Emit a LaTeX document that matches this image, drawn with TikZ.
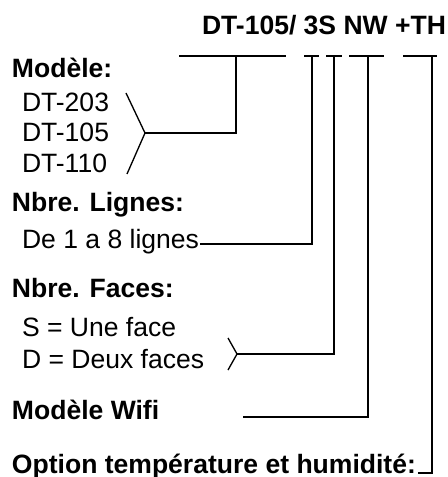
\documentclass[tikz,border=0pt]{standalone}
\usepackage{fontspec}
\setmainfont{Liberation Sans}
\usetikzlibrary{calc}
\tikzset{
  txt/.style={anchor=base west, inner sep=0pt, outer sep=0pt, font=\fontsize{19.9pt}{24pt}\selectfont},
  head/.style={txt, font=\fontsize{19.9pt}{24pt}\selectfont\bfseries},
  conn/.style={draw=black, line width=1pt, line cap=butt, line join=miter}
}
\begin{document}
\begin{tikzpicture}[x=0.75pt, y=-0.75pt]
\useasboundingbox (0,0) rectangle (447,477);
% title
\node[head] (title) at (202,35) {DT-105/ 3S NW +TH};
% left texts
\node[head] (modele) at (12,78) {Modèle:};
\node[txt] (m1) at (22,112) {DT-203};
\node[txt] (m2) at (22,142) {DT-105};
\node[txt] (m3) at (22,173) {DT-110};
\node[head] (nlignes) at (12,211) {Nbre. Lignes:};
\node[txt] (lignes) at (22,248) {De 1 a 8 lignes};
\node[head] (nfaces) at (12,297) {Nbre. Faces:};
\node[txt] (f1) at (22,336) {S = Une face};
\node[txt] (f2) at (22,368) {D = Deux faces};
\node[head] (wifi) at (12,419) {Modèle Wifi};
\node[head] (th) at (12,473) {Option température et humidité:};
% tie points under the title
\coordinate (tM) at (236,56);
\coordinate (t3) at (312,56);
\coordinate (tS) at (334,56);
\coordinate (tN) at (368,56);
\coordinate (tT) at (432,56);
% bars under title parts
\draw[conn] (179,56) -- (286,56);
\draw[conn] (304,56) -- (319,56);
\draw[conn] (326,56) -- (342,56);
\draw[conn] (349,56) -- (384,56);
\draw[conn] (403,56) -- (437,56);
% model bracket
\coordinate (bM) at (145,133);
\draw[conn] (126,93) -- (bM) -- (127,174);
\draw[conn] (bM) -- (tM |- bM) -- (tM);
% lines
\coordinate (lE) at ($(lignes.base east)+(1,-4)$);
\draw[conn] (lE) -- (t3 |- lE) -- (t3);
% faces bracket
\coordinate (bS) at (237,354);
\draw[conn] (228,338) -- (bS) -- (228,370);
\draw[conn] (bS) -- (tS |- bS) -- (tS);
% wifi
\coordinate (wE) at (243,417);
\draw[conn] (wE) -- (tN |- wE) -- (tN);
% temperature
\coordinate (hE) at ($(th.base east)+(2,0)$);
\draw[conn] (hE) -- (tT |- hE) -- (tT);
\end{tikzpicture}
\end{document}
